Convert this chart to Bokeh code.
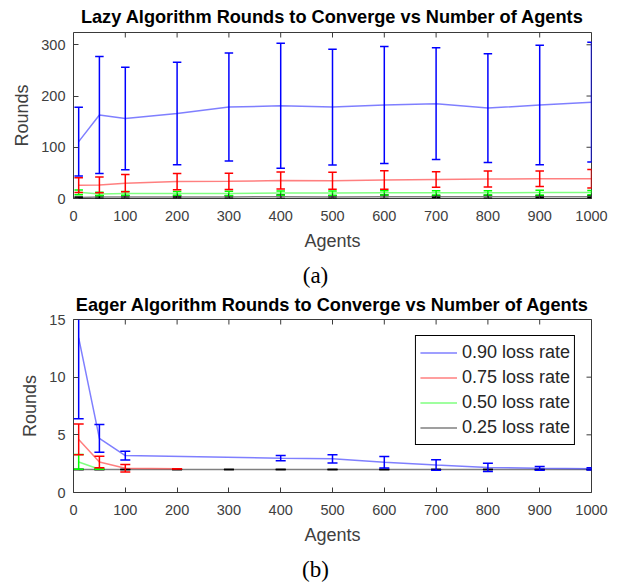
import numpy as np
from bokeh.plotting import figure
from bokeh.models import Range1d, FixedTicker, Legend, LegendItem, Div
from bokeh.layouts import column
from bokeh.embed import file_html
from bokeh.resources import INLINE

# ---------------- data ----------------
agents = [10, 50, 100, 200, 300, 400, 500, 600, 700, 800, 900, 1000]

# Lazy algorithm (panel a): mean rounds and error half-widths
lazy_090 = [111, 163, 156, 166, 178.5, 181, 178.5, 182.5, 185, 176.5, 182.5, 188]
lazy_090_err = [67, 114, 100, 100, 105.5, 122, 113, 114, 109, 106, 116.5, 117]
lazy_075 = [26, 26.5, 30, 33, 33.5, 35, 34.5, 36, 37, 38, 38.5, 38.5]
lazy_075_err = [14.5, 15.5, 17, 16, 16, 16.5, 16.5, 18, 15, 15.5, 15, 18]
lazy_050 = [12, 9, 10, 10, 10, 10.5, 10.5, 11, 11, 11, 11.5, 11.5]
lazy_050_err = [4.5, 3, 3.5, 3.5, 4, 4, 4, 4, 4, 4, 4.5, 4]
lazy_025 = [2, 3, 3, 3, 3, 3.5, 3, 3.5, 3.5, 3.5, 3.5, 3.5]
lazy_025_err = [1, 2.5, 2.5, 2, 2.5, 3.5, 2.5, 3.5, 2, 3, 2, 2]

# Eager algorithm (panel b)
eager_090_agents = [10, 50, 100, 400, 500, 600, 700, 800, 900, 1000]
eager_090 = [13.4, 4.7, 3.2, 2.98, 2.92, 2.62, 2.38, 2.17, 2.1, 2.05]
eager_090_err = [7.0, 1.2, 0.38, 0.22, 0.36, 0.5, 0.46, 0.36, 0.16, 0.1]
eager_075_agents = [10, 50, 100, 200]
eager_075 = [4.6, 2.65, 2.1, 2.07]
eager_075_err = [1.33, 0.5, 0.32, 0.0]
eager_050_agents = [10, 50]
eager_050 = [2.65, 2.02]
eager_050_err = [0.64, 0.0]
eager_025_agents = agents
eager_025 = [2.0] * 12
eager_025_err = [0.0] * 12

series_labels = ["0.90 loss rate", "0.75 loss rate", "0.50 loss rate", "0.25 loss rate"]
series_colors = ["#0000ff", "#ff0000", "#00ff00", "#000000"]

x_ticks = [0, 100, 200, 300, 400, 500, 600, 700, 800, 900, 1000]
lazy_y_ticks = [0, 100, 200, 300]
eager_y_ticks = [0, 5, 10, 15]

FONT = "Liberation Sans"
AXC = "#3a3a3a"
TICKC = "#404040"


def make_fig(title, height, xr, yr, xt, yt, borders, title_standoff):
    left, right, top, bottom = borders
    p = figure(width=631, height=height, x_range=Range1d(*xr), y_range=Range1d(*yr),
               output_backend="svg", toolbar_location=None,
               min_border_left=left, min_border_right=right,
               min_border_top=top, min_border_bottom=bottom)
    p.title.text = title
    p.title.align = "center"
    p.title.vertical_align = "middle"
    p.title.text_font = FONT
    p.title.text_font_size = "18.2px"
    p.title.text_font_style = "bold"
    p.title.text_color = "#000000"
    p.title.standoff = title_standoff
    p.outline_line_color = AXC
    p.outline_line_width = 1
    p.outline_line_alpha = 1
    p.xgrid.visible = False
    p.ygrid.visible = False
    p.background_fill_color = "white"
    p.border_fill_color = "white"

    p.xaxis.ticker = FixedTicker(ticks=xt)
    p.yaxis.ticker = FixedTicker(ticks=yt)
    for ax in (p.xaxis[0], p.yaxis[0]):
        ax.axis_line_color = None
        ax.major_tick_in = 5
        ax.major_tick_out = 0
        ax.major_tick_line_color = AXC
        ax.minor_tick_line_color = None
        ax.major_label_text_font = FONT
        ax.major_label_text_font_size = "14.5px"
        ax.major_label_text_color = TICKC
        ax.axis_label_text_font = FONT
        ax.axis_label_text_font_size = "18px"
        ax.axis_label_text_font_style = "normal"
        ax.axis_label_text_color = TICKC
    p.xaxis.axis_label = "Agents"
    p.yaxis.axis_label = "Rounds"
    p.xaxis.major_label_standoff = 12
    p.xaxis.axis_label_standoff = 7
    p.yaxis.major_label_standoff = 8
    p.yaxis.axis_label_standoff = 6

    # inward ticks on the top and right edges of the box (outer half clipped by the frame)
    p.scatter(x=xt, y=[yr[1]] * len(xt), marker="dash", angle=np.pi / 2, size=10,
              line_color=AXC, line_width=1)
    p.scatter(x=[xr[1]] * len(yt), y=yt, marker="dash", size=10,
              line_color=AXC, line_width=1)
    return p


def caption(text):
    return Div(text=text, width=631, height=28, margin=0,
               styles={"text-align": "center", "font-family": "Liberation Serif",
                       "font-size": "23px", "line-height": "28px", "color": "#000000",
                       "width": "631px"})


def draw_series(p, x, m, e, color, cap):
    x = np.asarray(x, dtype=float)
    m = np.asarray(m, dtype=float)
    e = np.asarray(e, dtype=float)
    line = p.line(x, m, line_color=color, line_alpha=0.5, line_width=1.5)
    p.segment(x0=x, y0=m - e, x1=x, y1=m + e, line_color=color, line_width=1.5)
    p.scatter(x, m + e, marker="dash", size=cap, line_color=color, line_width=1.5)
    p.scatter(x, m - e, marker="dash", size=cap, line_color=color, line_width=1.5)
    return line


# ---------------- panel (a) ----------------
pa = make_fig("Lazy Algorithm Rounds to Converge vs Number of Agents", 262,
              (0, 1000), (0, 324), x_ticks, lazy_y_ticks, (73, 35, 32, 64), 9)
lazy_data = [(lazy_090, lazy_090_err), (lazy_075, lazy_075_err),
             (lazy_050, lazy_050_err), (lazy_025, lazy_025_err)]
for (m, e), c in list(zip(lazy_data, series_colors))[::-1]:
    draw_series(pa, agents, m, e, c, 8.5)

# ---------------- panel (b) ----------------
pb = make_fig("Eager Algorithm Rounds to Converge vs Number of Agents", 266,
              (0, 1000), (0, 15), x_ticks, eager_y_ticks, (61, 40, 29, 64), 7)
eager_data = [(eager_090_agents, eager_090, eager_090_err),
              (eager_075_agents, eager_075, eager_075_err),
              (eager_050_agents, eager_050, eager_050_err),
              (eager_025_agents, eager_025, eager_025_err)]
lines = {}
for i in [3, 2, 1, 0]:
    xx, m, e = eager_data[i]
    lines[i] = draw_series(pb, xx, m, e, series_colors[i], 10)

legend = Legend(items=[LegendItem(label=series_labels[i], renderers=[lines[i]]) for i in range(4)],
                location="top_right", margin=16, border_line_color="#000000",
                border_line_width=1, border_line_alpha=1,
                background_fill_color="white", background_fill_alpha=1,
                padding=4, spacing=0, glyph_width=37, glyph_height=25,
                label_standoff=5, label_text_font=FONT, label_text_font_size="18px",
                label_text_color="#262626")
pb.add_layout(legend)

layout = column(pa, caption("(a)"), pb, caption("(b)"), spacing=0)
open("out.html", "w").write(file_html(layout, INLINE))
